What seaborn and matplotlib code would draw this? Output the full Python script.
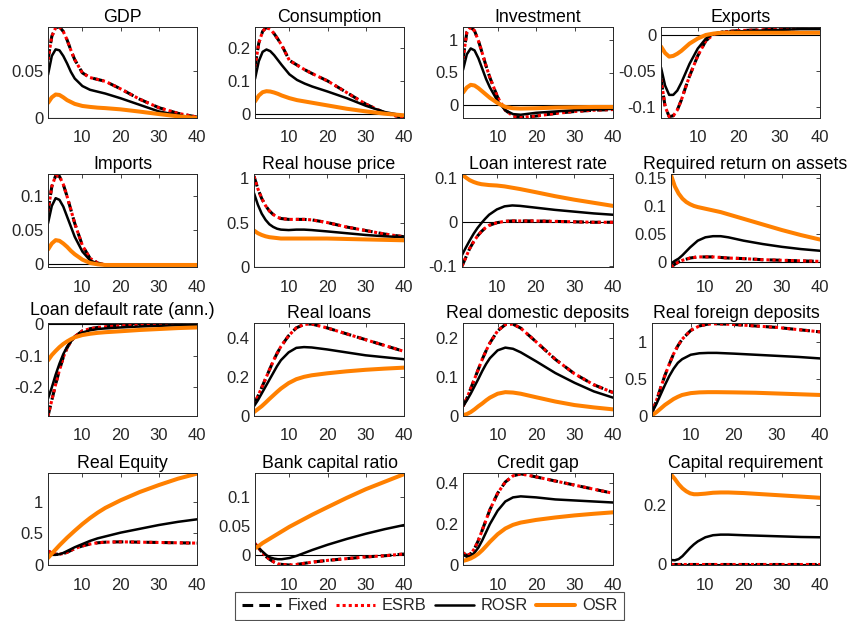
import matplotlib
matplotlib.use("Agg")
import matplotlib.pyplot as plt
from matplotlib.lines import Line2D
import seaborn as sns

sns.set_style("white")
plt.rcParams['font.family'] = ['Liberation Sans', 'DejaVu Sans']
plt.rcParams['axes.unicode_minus'] = False

# Horizons (quarters)
H = [1, 2, 3, 4, 5, 6, 7, 8, 10, 12, 14, 16, 20, 25, 30, 35, 40]

# Impulse responses (Fixed and ESRB coincide)
gdp_fixed = [0.062, 0.087, 0.096, 0.097, 0.092, 0.083, 0.072, 0.062, 0.048, 0.043, 0.041, 0.039, 0.031, 0.020, 0.011, 0.005, 0.001]
gdp_rosr = [0.046, 0.066, 0.073, 0.072, 0.066, 0.058, 0.049, 0.042, 0.034, 0.030, 0.028, 0.026, 0.021, 0.014, 0.007, 0.003, 0.000]
gdp_osr = [0.016, 0.022, 0.025, 0.0245, 0.022, 0.019, 0.017, 0.015, 0.0128, 0.0118, 0.011, 0.0105, 0.0092, 0.0068, 0.0042, 0.0018, 0.000]

cons_fixed = [0.143, 0.215, 0.250, 0.262, 0.256, 0.243, 0.226, 0.208, 0.162, 0.148, 0.134, 0.122, 0.100, 0.065, 0.030, 0.003, -0.012]
cons_rosr = [0.106, 0.160, 0.188, 0.195, 0.190, 0.178, 0.163, 0.148, 0.120, 0.103, 0.092, 0.083, 0.068, 0.048, 0.025, 0.006, -0.005]
cons_osr = [0.038, 0.056, 0.066, 0.069, 0.068, 0.065, 0.061, 0.056, 0.048, 0.042, 0.038, 0.034, 0.026, 0.016, 0.008, 0.001, -0.004]

inv_fixed = [0.71, 1.12, 1.20, 1.14, 0.99, 0.80, 0.60, 0.42, 0.12, -0.08, -0.17, -0.19, -0.17, -0.13, -0.10, -0.08, -0.07]
inv_rosr = [0.54, 0.78, 0.87, 0.84, 0.72, 0.56, 0.40, 0.27, 0.06, -0.08, -0.14, -0.15, -0.12, -0.10, -0.08, -0.07, -0.06]
inv_osr = [0.19, 0.27, 0.31, 0.30, 0.26, 0.21, 0.16, 0.11, 0.03, -0.03, -0.05, -0.055, -0.05, -0.04, -0.035, -0.03, -0.03]

exp_fixed = [-0.061, -0.099, -0.113, -0.112, -0.104, -0.090, -0.073, -0.057, -0.029, -0.008, 0.001, 0.004, 0.006, 0.007, 0.008, 0.009, 0.010]
exp_rosr = [-0.045, -0.070, -0.083, -0.083, -0.077, -0.066, -0.053, -0.040, -0.019, -0.005, 0.002, 0.004, 0.005, 0.006, 0.007, 0.008, 0.008]
exp_osr = [-0.016, -0.025, -0.030, -0.029, -0.026, -0.022, -0.017, -0.012, -0.005, 0.000, 0.002, 0.003, 0.003, 0.003, 0.003, 0.003, 0.003]

imp_fixed = [0.0775, 0.115, 0.131, 0.130, 0.118, 0.100, 0.080, 0.060, 0.027, 0.008, 0.001, -0.002, -0.003, -0.003, -0.004, -0.004, -0.005]
imp_rosr = [0.060, 0.086, 0.0975, 0.095, 0.085, 0.070, 0.055, 0.040, 0.018, 0.005, 0.000, -0.002, -0.003, -0.003, -0.003, -0.003, -0.003]
imp_osr = [0.021, 0.030, 0.035, 0.034, 0.030, 0.025, 0.019, 0.014, 0.006, 0.001, -0.001, -0.002, -0.002, -0.002, -0.002, -0.002, -0.002]

hp_fixed = [1.02, 0.88, 0.77, 0.69, 0.63, 0.59, 0.56, 0.545, 0.535, 0.535, 0.535, 0.53, 0.50, 0.45, 0.41, 0.37, 0.34]
hp_rosr = [0.83, 0.70, 0.60, 0.53, 0.48, 0.45, 0.43, 0.42, 0.415, 0.42, 0.42, 0.415, 0.40, 0.38, 0.36, 0.345, 0.335]
hp_osr = [0.41, 0.38, 0.36, 0.345, 0.335, 0.33, 0.325, 0.32, 0.32, 0.32, 0.32, 0.32, 0.32, 0.315, 0.31, 0.305, 0.30]

lr_fixed = [-0.100, -0.080, -0.060, -0.045, -0.032, -0.022, -0.014, -0.008, -0.002, 0.001, 0.002, 0.002, 0.002, 0.001, 0.000, -0.001, -0.001]
lr_rosr = [-0.075, -0.058, -0.042, -0.027, -0.014, -0.003, 0.007, 0.016, 0.028, 0.035, 0.037, 0.036, 0.032, 0.027, 0.023, 0.019, 0.016]
lr_osr = [0.107, 0.100, 0.094, 0.090, 0.087, 0.085, 0.084, 0.083, 0.082, 0.080, 0.077, 0.074, 0.067, 0.058, 0.050, 0.043, 0.036]

rra_fixed = [-0.009, -0.004, 0.000, 0.003, 0.005, 0.007, 0.008, 0.009, 0.009, 0.009, 0.008, 0.007, 0.006, 0.004, 0.003, 0.002, 0.001]
rra_rosr = [-0.003, 0.002, 0.006, 0.012, 0.019, 0.026, 0.032, 0.038, 0.044, 0.046, 0.046, 0.044, 0.038, 0.032, 0.027, 0.023, 0.020]
rra_osr = [0.155, 0.135, 0.122, 0.113, 0.107, 0.103, 0.100, 0.098, 0.095, 0.092, 0.089, 0.085, 0.077, 0.067, 0.057, 0.048, 0.040]

ldr_fixed = [-0.29, -0.24, -0.19, -0.145, -0.105, -0.075, -0.055, -0.040, -0.022, -0.015, -0.011, -0.009, -0.006, -0.004, -0.002, -0.001, 0.000]
ldr_rosr = [-0.235, -0.200, -0.160, -0.125, -0.095, -0.072, -0.055, -0.042, -0.027, -0.020, -0.016, -0.014, -0.011, -0.008, -0.006, -0.004, -0.003]
ldr_osr = [-0.115, -0.098, -0.085, -0.073, -0.063, -0.055, -0.048, -0.042, -0.035, -0.031, -0.028, -0.026, -0.023, -0.019, -0.016, -0.013, -0.011]

loans_fixed = [0.06, 0.10, 0.145, 0.19, 0.235, 0.28, 0.32, 0.355, 0.41, 0.45, 0.468, 0.47, 0.45, 0.42, 0.39, 0.36, 0.33]
loans_rosr = [0.05, 0.08, 0.115, 0.15, 0.185, 0.22, 0.255, 0.285, 0.325, 0.348, 0.352, 0.35, 0.34, 0.325, 0.31, 0.30, 0.29]
loans_osr = [0.02, 0.035, 0.05, 0.068, 0.087, 0.105, 0.123, 0.14, 0.168, 0.188, 0.20, 0.208, 0.218, 0.228, 0.236, 0.242, 0.247]

ddep_fixed = [0.025, 0.045, 0.070, 0.095, 0.120, 0.145, 0.167, 0.187, 0.218, 0.234, 0.235, 0.225, 0.190, 0.145, 0.108, 0.080, 0.060]
ddep_rosr = [0.025, 0.040, 0.057, 0.076, 0.095, 0.115, 0.133, 0.148, 0.168, 0.175, 0.172, 0.163, 0.140, 0.110, 0.085, 0.063, 0.047]
ddep_osr = [0.002, 0.005, 0.010, 0.017, 0.025, 0.032, 0.040, 0.047, 0.057, 0.061, 0.060, 0.057, 0.048, 0.037, 0.028, 0.022, 0.017]

fdep_fixed = [0.05, 0.20, 0.38, 0.55, 0.70, 0.84, 0.95, 1.04, 1.16, 1.22, 1.245, 1.25, 1.24, 1.22, 1.20, 1.17, 1.14]
fdep_rosr = [0.05, 0.16, 0.29, 0.42, 0.54, 0.64, 0.72, 0.77, 0.83, 0.85, 0.855, 0.855, 0.845, 0.83, 0.815, 0.80, 0.78]
fdep_osr = [0.01, 0.05, 0.10, 0.15, 0.19, 0.23, 0.26, 0.285, 0.31, 0.32, 0.323, 0.323, 0.32, 0.315, 0.305, 0.295, 0.285]

eq_fixed = [0.22, 0.19, 0.17, 0.17, 0.18, 0.20, 0.23, 0.26, 0.30, 0.33, 0.35, 0.36, 0.365, 0.36, 0.355, 0.35, 0.345]
eq_rosr = [0.17, 0.16, 0.16, 0.17, 0.19, 0.22, 0.25, 0.28, 0.33, 0.38, 0.42, 0.45, 0.51, 0.57, 0.63, 0.68, 0.72]
eq_osr = [0.11, 0.18, 0.245, 0.31, 0.37, 0.43, 0.485, 0.54, 0.645, 0.74, 0.825, 0.90, 1.02, 1.15, 1.26, 1.36, 1.44]

bcr_fixed = [0.020, 0.012, 0.004, -0.003, -0.008, -0.012, -0.015, -0.016, -0.017, -0.016, -0.014, -0.012, -0.009, -0.006, -0.003, -0.001, 0.002]
bcr_rosr = [0.018, 0.012, 0.006, 0.000, -0.004, -0.006, -0.007, -0.007, -0.005, -0.001, 0.004, 0.009, 0.018, 0.028, 0.037, 0.045, 0.052]
bcr_osr = [0.012, 0.016, 0.021, 0.025, 0.029, 0.033, 0.037, 0.041, 0.049, 0.056, 0.063, 0.070, 0.083, 0.099, 0.114, 0.127, 0.140]

cg_fixed = [0.06, 0.045, 0.055, 0.08, 0.12, 0.17, 0.22, 0.27, 0.35, 0.405, 0.435, 0.445, 0.43, 0.41, 0.39, 0.37, 0.35]
cg_rosr = [0.05, 0.04, 0.045, 0.06, 0.085, 0.12, 0.16, 0.20, 0.265, 0.31, 0.33, 0.335, 0.33, 0.32, 0.315, 0.31, 0.305]
cg_osr = [0.02, 0.025, 0.032, 0.042, 0.055, 0.072, 0.092, 0.113, 0.15, 0.178, 0.196, 0.207, 0.22, 0.232, 0.242, 0.25, 0.257]

cr_fixed = [0.0] * len(H)
cr_rosr = [0.015, 0.014, 0.018, 0.028, 0.042, 0.056, 0.068, 0.078, 0.092, 0.099, 0.101, 0.101, 0.099, 0.097, 0.095, 0.093, 0.092]
cr_osr = [0.305, 0.29, 0.272, 0.258, 0.248, 0.241, 0.238, 0.238, 0.24, 0.243, 0.244, 0.244, 0.242, 0.238, 0.234, 0.23, 0.226]

titles = ["GDP", "Consumption", "Investment", "Exports",
          "Imports", "Real house price", "Loan interest rate", "Required return on assets",
          "Loan default rate (ann.)", "Real loans", "Real domestic deposits", "Real foreign deposits",
          "Real Equity", "Bank capital ratio", "Credit gap", "Capital requirement"]

series = [(gdp_fixed, gdp_rosr, gdp_osr), (cons_fixed, cons_rosr, cons_osr),
          (inv_fixed, inv_rosr, inv_osr), (exp_fixed, exp_rosr, exp_osr),
          (imp_fixed, imp_rosr, imp_osr), (hp_fixed, hp_rosr, hp_osr),
          (lr_fixed, lr_rosr, lr_osr), (rra_fixed, rra_rosr, rra_osr),
          (ldr_fixed, ldr_rosr, ldr_osr), (loans_fixed, loans_rosr, loans_osr),
          (ddep_fixed, ddep_rosr, ddep_osr), (fdep_fixed, fdep_rosr, fdep_osr),
          (eq_fixed, eq_rosr, eq_osr), (bcr_fixed, bcr_rosr, bcr_osr),
          (cg_fixed, cg_rosr, cg_osr), (cr_fixed, cr_rosr, cr_osr)]

ylims = [(0, 0.0968), (-0.012, 0.263), (-0.2, 1.2), (-0.115, 0.011),
         (-0.005, 0.1335), (0, 1.045), (-0.102, 0.108), (-0.009, 0.157),
         (-0.29, 0.003), (0, 0.475), (0, 0.238), (0, 1.26),
         (0, 1.45), (-0.017, 0.142), (0, 0.449), (-0.002, 0.31)]

yticks = [[0, 0.05], [0, 0.1, 0.2], [0, 0.5, 1], [-0.1, -0.05, 0],
          [0, 0.05, 0.1], [0, 0.5, 1], [-0.1, 0, 0.1], [0, 0.05, 0.1, 0.15],
          [-0.2, -0.1, 0], [0, 0.2, 0.4], [0, 0.1, 0.2], [0, 0.5, 1],
          [0, 0.5, 1], [0, 0.05, 0.1], [0, 0.2, 0.4], [0, 0.2]]

# panel boxes in pixels: (left, right) per panel, (top, bottom) per row
W, Hpx = 855, 621
col_lr = [[(48, 197), (255, 404), (463, 613), (661, 820)],
          [(48, 197), (254, 404), (462, 613), (671, 820)],
          [(48, 197), (254, 404), (463, 613), (652, 820)],
          [(48, 197), (255, 404), (463, 613), (671, 820)]]
row_tb = [(27, 118), (174, 267), (323, 416), (473, 565)]

ORANGE = "#ff8000"
AXC = "#262626"
styles = {
    "Fixed": dict(color="black", lw=2.2, ls=(0, (3.5, 2.0))),
    "ESRB": dict(color="red", lw=2.2, ls=(0, (1.0, 1.0))),
    "ROSR": dict(color="black", lw=1.8, ls="-"),
    "OSR": dict(color=ORANGE, lw=2.9, ls="-"),
}

fig = plt.figure(figsize=(W / 100, Hpx / 100), dpi=100)

for i, title in enumerate(titles):
    r, c = divmod(i, 4)
    l, rr = col_lr[r][c]
    t, b = row_tb[r]
    ax = fig.add_axes([l / W, 1 - b / Hpx, (rr - l) / W, (b - t) / Hpx])
    fixed, rosr, osr = series[i]
    ax.axhline(0, color="black", lw=0.8, zorder=1)
    for name, vals in [("Fixed", fixed), ("ESRB", fixed), ("ROSR", rosr), ("OSR", osr)]:
        st = styles[name]
        sns.lineplot(x=H, y=vals, ax=ax, color=st["color"], linewidth=st["lw"],
                     linestyle=st["ls"], estimator=None, sort=False)
    ax.set_xlim(1, 40)
    ax.set_ylim(*ylims[i])
    ax.set_xticks([10, 20, 30, 40])
    ax.set_yticks(yticks[i])
    ax.set_yticklabels([f"{v:g}" for v in yticks[i]])
    ax.set_xlabel("")
    ax.set_ylabel("")
    # the default-rate title sits just above a "0" tick label, lift it slightly
    ax.set_title(title, fontsize=12.8, color="black", pad=6 if i == 8 else 3.5)
    ax.tick_params(axis="both", direction="in", length=3, width=0.6,
                   labelsize=12, labelcolor=AXC, color=AXC,
                   top=True, right=True)
    ax.tick_params(axis="x", pad=9)
    ax.tick_params(axis="y", pad=3.5)
    for sp in ax.spines.values():
        sp.set_color(AXC)
        sp.set_linewidth(0.7)
        sp.set_visible(True)

handles = [Line2D([], [], color=styles[n]["color"], lw=styles[n]["lw"],
                  ls=styles[n]["ls"], label=n) for n in ["Fixed", "ESRB", "ROSR", "OSR"]]
leg = fig.legend(handles=handles, loc="center", ncol=4,
                 bbox_to_anchor=(429.5 / W, 1 - 606 / Hpx), fontsize=11.8,
                 frameon=True, fancybox=False, handlelength=2.4,
                 handletextpad=0.4, columnspacing=0.5, borderpad=0.4)
leg.get_frame().set_edgecolor(AXC)
leg.get_frame().set_linewidth(0.8)

fig.savefig("out.png", dpi=100)
